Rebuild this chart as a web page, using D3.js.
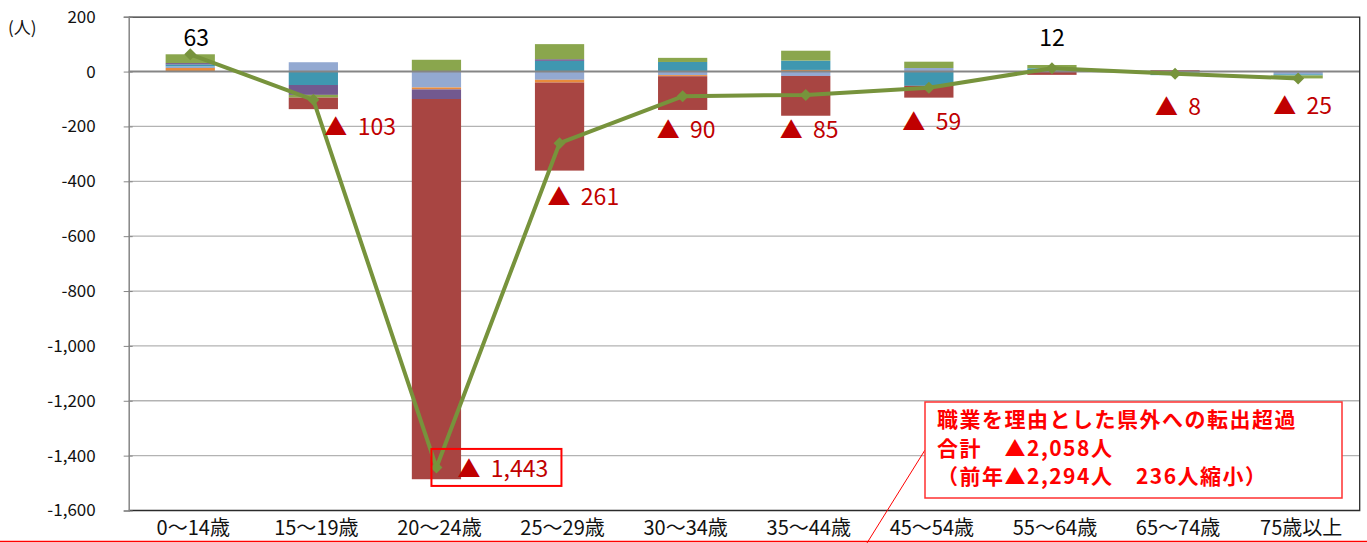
<!DOCTYPE html>
<html>
<head>
<meta charset="utf-8">
<script src="https://cdn.jsdelivr.net/npm/d3@7"></script>
<style>
  body { margin: 0; background: #fff; }
  text { font-family: "Noto Sans CJK JP", "Noto Sans", sans-serif; }
</style>
</head>
<body>
<svg id="chart" width="1367" height="543"></svg>
<script>
// DATA
const categories = ["0〜14歳", "15〜19歳", "20〜24歳", "25〜29歳", "30〜34歳",
    "35〜44歳", "45〜54歳", "55〜64歳", "65〜74歳", "75歳以上"];

// stacked series (people), one value per age group
const redSeries       = [0, -42, -1386, -321, -123, -145, -43, -12, 5, 0];
const orangeSeries    = [13, 0, -7, -10, -4, 6, 0, 0, 0, 0];
const purpleSeries    = [5, -36, -35, 6, 0, 0, 0, 0, 0, 0];
const tealSeries      = [7, -49, 0, 39, 35, 34, -52, 8, -9, -4];
const lightBlueSeries = [6, 34, -58, -30, -13, -16, 13, 4, -4, -10];
const greenSeries     = [32, -10, 43, 55, 15, 36, 23, 12, 0, -11];

// net total per age group (line)
const netTotals = [63, -103, -1443, -261, -90, -85, -59, 12, -8, -25];

const yTicks = [200, 0, -200, -400, -600, -800, -1000, -1200, -1400, -1600];

// SETUP
const margin = { top: 16.7, right: 7.3, bottom: 32.5, left: 128.7 },
    width = 1367 - margin.left - margin.right,
    height = 543 - margin.top - margin.bottom;

const svgRoot = d3.select("#chart");
const svg = svgRoot.append("g")
    .attr("transform", `translate(${margin.left},${margin.top})`);

const seriesValues = {
    red: redSeries, orange: orangeSeries, purple: purpleSeries,
    teal: tealSeries, lightBlue: lightBlueSeries, green: greenSeries
};
const colors = {
    red: "#A84542", orange: "#E88B3C", purple: "#72598F",
    teal: "#3F97B0", lightBlue: "#93A9D1", green: "#8AA64D"
};
// stacking order away from zero (positive up, negative down)
const posOrder = ["orange", "lightBlue", "teal", "purple", "green", "red"];
const negOrder = ["lightBlue", "orange", "teal", "purple", "green", "red"];

const rows = categories.map((c, i) => {
    const r = { cat: c };
    Object.keys(seriesValues).forEach(k => r[k] = seriesValues[k][i]);
    return r;
});

const posStack = d3.stack().keys(posOrder).value((d, k) => Math.max(0, d[k]))(rows);
const negStack = d3.stack().keys(negOrder).value((d, k) => Math.min(0, d[k]))(rows);

// SCALES
const x = d3.scaleBand()
    .domain(categories)
    .range([0, width])
    .paddingInner(0.6)
    .paddingOuter(0.3);

const y = d3.scaleLinear()
    .domain([-1600, 200])
    .range([height, 0]);

const fmt = d3.formatLocale({ decimal: ".", thousands: ",", grouping: [3], currency: ["", ""], minus: "-" }).format(",");

// GRIDLINES
svg.selectAll("line.grid")
    .data(yTicks.filter(t => t !== 200 && t !== -1600 && t !== 0))
    .enter()
    .append("line")
    .attr("class", "grid")
    .attr("x1", 0).attr("x2", width)
    .attr("y1", d => y(d)).attr("y2", d => y(d))
    .attr("stroke", "#b3b3b3")
    .attr("stroke-width", 1.3);

// BARS
[posStack, negStack].forEach(stack => {
    svg.append("g").selectAll("g")
        .data(stack)
        .enter()
        .append("g")
        .attr("fill", d => colors[d.key])
        .selectAll("rect")
        .data(d => d.filter(p => p[0] !== p[1]))
        .enter()
        .append("rect")
        .attr("x", d => x(d.data.cat))
        .attr("y", d => Math.min(y(d[0]), y(d[1])))
        .attr("width", x.bandwidth())
        .attr("height", d => Math.abs(y(d[0]) - y(d[1])));
});

// zero line
svg.append("line")
    .attr("x1", 0).attr("x2", width)
    .attr("y1", y(0)).attr("y2", y(0))
    .attr("stroke", "#858585")
    .attr("stroke-width", 2);

// PLOT BORDER (top, right, bottom)
svg.append("path")
    .attr("d", `M0,0.5H${width}V${height}H0`)
    .attr("fill", "none")
    .attr("stroke", "#2b2b2b")
    .attr("stroke-width", 1.3);

// Y AXIS
const yAxis = svg.append("g")
    .call(d3.axisLeft(y).tickValues(yTicks).tickFormat(fmt).tickSize(5).tickPadding(28));
yAxis.select(".domain").attr("stroke", "#868686").attr("stroke-width", 1.5);
yAxis.selectAll(".tick line").attr("stroke", "#868686").attr("x1", 4).attr("x2", -5);
yAxis.selectAll(".tick text")
    .attr("fill", "#111")
    .style("font-size", "17px")
    .style("font-family", "\"Noto Sans CJK JP\", sans-serif");

// X AXIS LABELS
svg.selectAll("text.cat")
    .data(categories)
    .enter()
    .append("text")
    .attr("class", "cat")
    .attr("x", d => x(d) + x.bandwidth() / 2 + 3)
    .attr("y", height + 25)
    .attr("text-anchor", "middle")
    .attr("fill", "#111")
    .style("font-size", "20px")
    .text(d => d);

// unit label
svgRoot.append("text")
    .attr("x", 8).attr("y", 34)
    .attr("fill", "#111")
    .style("font-size", "17px")
    .text("(人)");

// NET LINE
const cx = (d, i) => x(categories[i]) + x.bandwidth() / 2;
const line = d3.line()
    .x((d, i) => cx(d, i))
    .y(d => y(d));

svg.append("path")
    .datum(netTotals)
    .attr("d", line)
    .attr("fill", "none")
    .attr("stroke", "#77933C")
    .attr("stroke-width", 4)
    .attr("stroke-linejoin", "round");

svg.selectAll("path.marker")
    .data(netTotals)
    .enter()
    .append("path")
    .attr("class", "marker")
    .attr("d", d3.symbol(d3.symbolSquare, 72))
    .attr("transform", (d, i) => `translate(${cx(d, i)},${y(d)}) rotate(45)`)
    .attr("fill", "#77933C");

// VALUE LABELS (offsets in px from each marker)
const labelNudge = [[6, -8], [11, 35], [21, 9.5], [-12, 62], [-26, 42],
    [-26, 43], [-26.5, 42], [0, -22], [-20, 41], [-25, 36]];

svg.selectAll("text.val")
    .data(netTotals)
    .enter()
    .append("text")
    .attr("class", "val")
    .attr("x", (d, i) => cx(d, i) + labelNudge[i][0])
    .attr("y", (d, i) => y(d) + labelNudge[i][1])
    .attr("text-anchor", d => d >= 0 ? "middle" : "start")
    .attr("fill", d => d >= 0 ? "#000" : "#C00000")
    .style("font-size", "23px")
    .style("white-space", "pre")
    .text(d => d >= 0 ? fmt(d) : "▲  " + fmt(-d));

// highlight box around the 20〜24 label
const peak = netTotals.indexOf(d3.min(netTotals));
const px = cx(0, peak) + labelNudge[peak][0], py = y(netTotals[peak]) + labelNudge[peak][1];
svg.append("rect")
    .attr("x", px - 26).attr("y", py - 28)
    .attr("width", 130).attr("height", 37)
    .attr("fill", "none")
    .attr("stroke", "#FF0000")
    .attr("stroke-width", 2);

// ANNOTATION
svgRoot.append("line")
    .attr("x1", 0).attr("x2", 1367)
    .attr("y1", 541.5).attr("y2", 541.5)
    .attr("stroke", "#FF0000").attr("stroke-width", 1.3);
svgRoot.append("line")
    .attr("x1", 925).attr("y1", 450)
    .attr("x2", 867).attr("y2", 543)
    .attr("stroke", "#FF0000").attr("stroke-width", 1);

svgRoot.append("rect")
    .attr("x", 925).attr("y", 402)
    .attr("width", 417).attr("height", 96)
    .attr("fill", "#fff")
    .attr("stroke", "#FF3030")
    .attr("stroke-width", 1.5);

const noteLines = ["職業を理由とした県外への転出超過", "合計　▲2,058人", "（前年▲2,294人　236人縮小）"];
svgRoot.selectAll("text.note")
    .data(noteLines)
    .enter()
    .append("text")
    .attr("class", "note")
    .attr("x", 937)
    .attr("y", (d, i) => 427 + i * 28.5)
    .attr("fill", "#FF0000")
    .style("font-size", "21px")
    .style("font-weight", "700")
    .style("letter-spacing", "1.5px")
    .text(d => d);
</script>
</body>
</html>
